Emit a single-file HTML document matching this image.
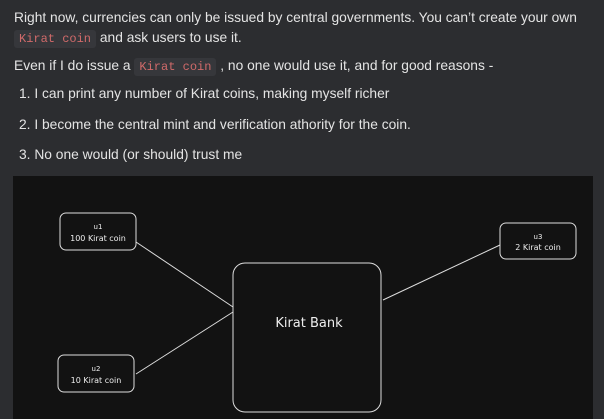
<!DOCTYPE html>
<html><head><style>
body{margin:0;width:604px;height:419px;background:#2c2d30;overflow:hidden;font-family:"Liberation Sans",sans-serif;color:#e4e4e4;font-size:13.8px}
.t{position:absolute;left:14px;white-space:nowrap}
code{font-family:"Liberation Mono",monospace;color:#d06a6a;background:#36373b;padding:2px 5px;border-radius:3px;font-size:12px}
svg{position:absolute;left:13px;top:176px}
</style></head><body>
<div class="t" style="top:10px">Right now, currencies can only be issued by central governments. You can’t create your own</div>
<div class="t" style="top:30px"><code>Kirat coin</code> and ask users to use it.</div>
<div class="t" style="top:58px">Even if I do issue a <code>Kirat coin</code> , no one would use it, and for good reasons -</div>
<div class="t" style="top:86px;left:19px">1. I can print any number of Kirat coins, making myself richer</div>
<div class="t" style="top:117px;left:19px">2. I become the central mint and verification athority for the coin.</div>
<div class="t" style="top:147px;left:19px">3. No one would (or should) trust me</div>
<svg width="580" height="243" viewBox="13 176 580 243">
<rect x="13" y="176" width="580" height="243" fill="#121212"/>
<g fill="none" stroke="#ddd" stroke-width="1">
<rect x="60" y="213" width="76" height="37" rx="6"/>
<rect x="58" y="355" width="76" height="37" rx="6"/>
<rect x="500" y="223" width="76" height="36" rx="6"/>
<rect x="233" y="263" width="148" height="149" rx="12"/>
<line x1="136" y1="242" x2="233" y2="307"/>
<line x1="136" y1="374" x2="233" y2="312"/>
<line x1="383" y1="300" x2="500" y2="245"/>
</g>
<g fill="#eee" font-family="DejaVu Sans, sans-serif" text-anchor="middle">
<text x="98" y="229" font-size="7">u1</text>
<text x="98" y="241" font-size="8">100 Kirat coin</text>
<text x="96" y="371" font-size="7">u2</text>
<text x="96" y="383" font-size="8">10 Kirat coin</text>
<text x="538" y="239" font-size="7">u3</text>
<text x="538" y="250" font-size="8">2 Kirat coin</text>
<text x="309" y="327" font-size="13">Kirat Bank</text>
</g>
</svg>
</body></html>
